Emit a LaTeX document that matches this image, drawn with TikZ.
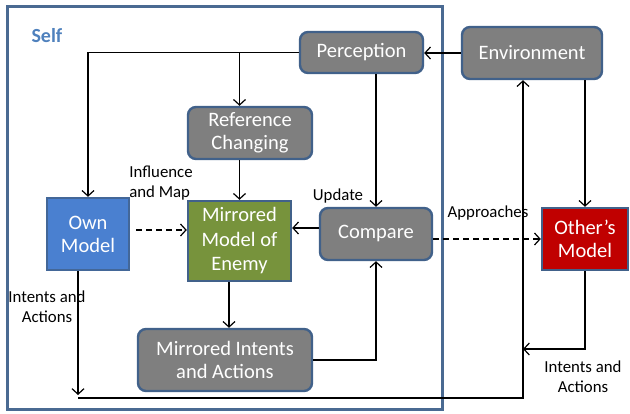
\documentclass[tikz,border=0pt]{standalone}
\usepackage{fontspec}
\setmainfont{Carlito}
\usetikzlibrary{arrows.meta,calc}
\definecolor{frameblue}{HTML}{4A6A92}
\definecolor{boxedge}{HTML}{41618A}
\definecolor{boxgray}{HTML}{7F7F7F}
\definecolor{ownblue}{HTML}{4A80D0}
\definecolor{owngreen}{HTML}{77933C}
\definecolor{otherred}{HTML}{C00000}
\definecolor{selfblue}{HTML}{4F81BD}
\tikzset{
  box/.style={draw=boxedge, line width=2.4pt, text=white, align=center,
    inner sep=0pt, font=\fontsize{20.5}{23}\selectfont},
  grayb/.style={box, fill=boxgray, rounded corners=8pt},
  ownb/.style={box, fill=ownblue, draw=boxedge!80!ownblue},
  mirb/.style={box, fill=owngreen, font=\fontsize{20.5}{24.5}\selectfont},
  othb/.style={box, fill=otherred},
  arr/.style={line width=1.2pt, -{Straight Barb[length=5.5pt,width=12pt,line width=1.2pt]}},
  dasharr/.style={arr, dash pattern=on 6pt off 4pt},
  lbl/.style={font=\fontsize{16.8}{20}\selectfont, align=center, inner sep=0pt}
}
\begin{document}
\begin{tikzpicture}[x=1pt,y=-1pt]
\useasboundingbox (0,0) rectangle (630,414);
% Self frame
\draw[frameblue, line width=3pt] (7,7) rectangle (442,410);
\node[text=selfblue, font=\fontsize{20}{22}\selectfont\bfseries, anchor=west] (self) at (28,36) {Self};

% nodes
\node[grayb, minimum width=123pt, minimum height=41pt] (per) at (361.5,52.5) {Perception};
\node[grayb, minimum width=140pt, minimum height=52pt] (env) at (532,53) {Environment};
\node[grayb, minimum width=124pt, minimum height=52pt] (ref) at (250,133) {Reference\\Changing};
\node[ownb, minimum width=82pt, minimum height=72pt] (own) at (88,234) {Own\\Model};
\node[mirb, minimum width=103pt, minimum height=80pt] (mir) at (239.5,241) {Mirrored\\Model of\\Enemy};
\node[grayb, minimum width=112pt, minimum height=52pt] (cmp) at (376,234) {Compare};
\node[othb, minimum width=86pt, minimum height=62pt] (oth) at (585,239) {Other's\\Model};
\node[grayb, minimum width=174pt, minimum height=62pt] (mint) at (225,360) {Mirrored Intents\\and Actions};

% free ends of the outer loop
\coordinate (bl) at (78,398);
\coordinate (br) at (523,398);
\coordinate (oi) at (523,349);

% connectors
\draw[arr] (env.west) -- (env.west -| per.east);
\draw[arr] (per.west) -| (own.north);
\draw[arr] (mir.north |- per.west) -- (mir.north |- ref.north);
\draw[arr] (mir.north |- ref.south) -- (mir.north);
\draw[arr] (per.south -| cmp.north) -- (cmp.north);
\draw[arr] ([yshift=6pt]cmp.west) -- ([yshift=6pt]cmp.west -| mir.east);
\draw[dasharr, shorten <=6pt] ([yshift=4pt]own.east) -- ([yshift=4pt]own.east -| mir.west);
\draw[arr] ([xshift=-10.5pt]mir.south) -- ([xshift=-10.5pt]mir.south |- mint.north);
\draw[arr] (mint.east) -| (cmp.south);
\draw[dasharr] (cmp.east |- oth.west) -- (oth.west);
\draw[arr] (oth.north |- env.south) -- (oth.north);
\draw[arr] ([xshift=-10pt]own.south) -- ([yshift=3pt]bl);
\draw[arr] (bl) -- (br) -- (br |- env.south);
\draw[arr] (oth.south) |- (oi);

% labels
\node[lbl, align=left] (lim) at (161,183) {Influence\\and Map};
\node[lbl] (lup) at (338,196) {Update};
\node[lbl] (lap) at (488,213) {Approaches};
\node[lbl] (lia) at (47,307) {Intents and\\Actions};
\node[lbl] (lib) at (583,377) {Intents and\\Actions};
\end{tikzpicture}
\end{document}
